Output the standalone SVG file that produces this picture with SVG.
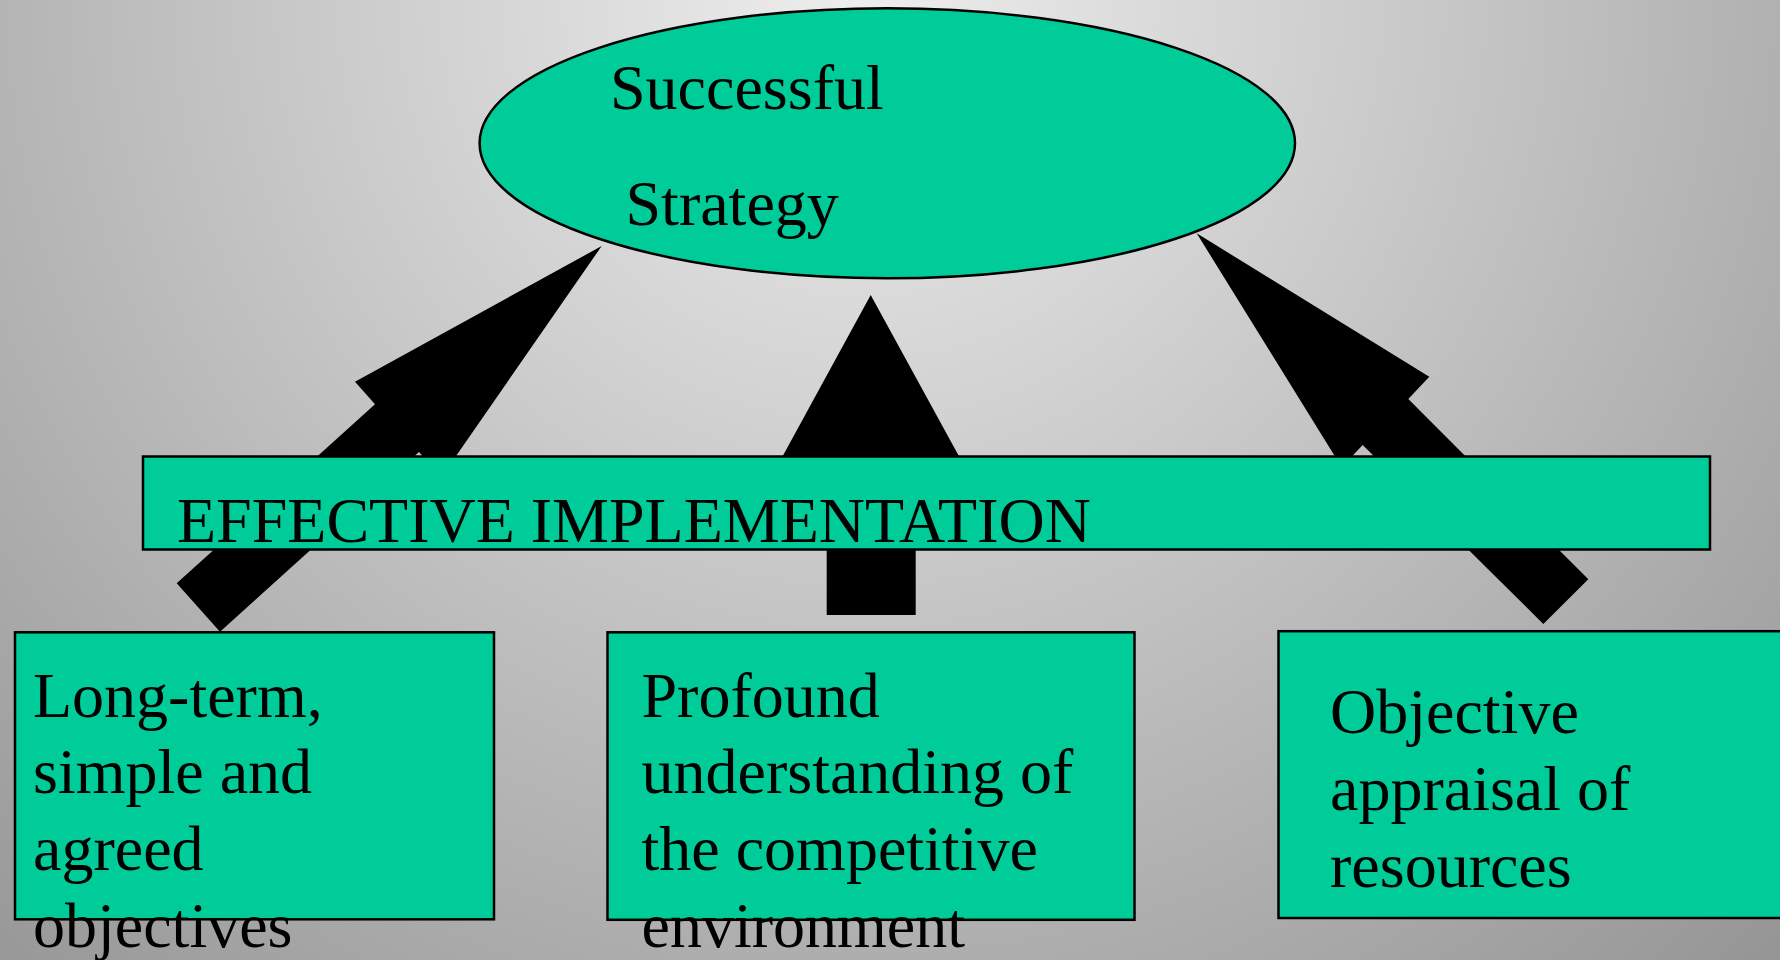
<svg xmlns="http://www.w3.org/2000/svg" width="1780" height="960" viewBox="0 0 1780 960">
  <defs>
    <radialGradient id="bg" gradientUnits="userSpaceOnUse" cx="860" cy="0" r="1330">
      <stop offset="0" stop-color="#eeeeee"/>
      <stop offset="1" stop-color="#959595"/>
    </radialGradient>
  </defs>
  <style>
    .shape { fill: #00CC99; stroke: #000000; stroke-width: 2.5; }
    .arrow { fill: #000000; stroke: none; }
    .label { font-family: "Liberation Serif", "Times New Roman", serif; font-size: 64px; fill: #000000; }
  </style>
  <rect x="0" y="0" width="1780" height="960" fill="url(#bg)"/>

  <g id="connectors">
    <polygon class="arrow" points="601.7,246 441.3,477.2 419,452 220,631.7 176.7,583.3 375,404.3 355,381.7"/>
    <polygon class="arrow" points="870.7,295 966.5,470 915.7,470 915.7,615 826.7,615 826.7,470 775.1,470"/>
    <polygon class="arrow" points="1196.7,233.3 1429.3,376.7 1408.3,399 1588.3,579.3 1543.3,624 1362.7,445 1341.7,467.3"/>
  </g>

  <g id="node-strategy">
    <ellipse class="shape" cx="887.3" cy="143.3" rx="407.7" ry="135" stroke-width="2"/>
    <text class="label" x="610" y="109.3">Successful</text>
    <text class="label" x="625.5" y="225">Strategy</text>
  </g>

  <g id="node-implementation">
    <rect class="shape" x="143" y="456.5" width="1567" height="93"/>
    <text class="label" x="177" y="541.7" font-size="63">EFFECTIVE IMPLEMENTATION</text>
  </g>

  <g id="node-objectives">
    <rect class="shape" x="15" y="632.3" width="479" height="287"/>
    <text class="label" x="33" y="716.7">Long-term,</text>
    <text class="label" x="33" y="793.3">simple and</text>
    <text class="label" x="33" y="870">agreed</text>
    <text class="label" x="33" y="946.7">objectives</text>
  </g>

  <g id="node-environment">
    <rect class="shape" x="607.5" y="632.3" width="527" height="287.5"/>
    <text class="label" x="641.5" y="716.7">Profound</text>
    <text class="label" x="641.5" y="793.3">understanding of</text>
    <text class="label" x="641.5" y="870">the competitive</text>
    <text class="label" x="641.5" y="946.7">environment</text>
  </g>

  <g id="node-resources">
    <rect class="shape" x="1278.5" y="631.2" width="520" height="286.8"/>
    <text class="label" x="1330" y="733.3">Objective</text>
    <text class="label" x="1330" y="810">appraisal of</text>
    <text class="label" x="1330" y="886.7">resources</text>
  </g>
</svg>
